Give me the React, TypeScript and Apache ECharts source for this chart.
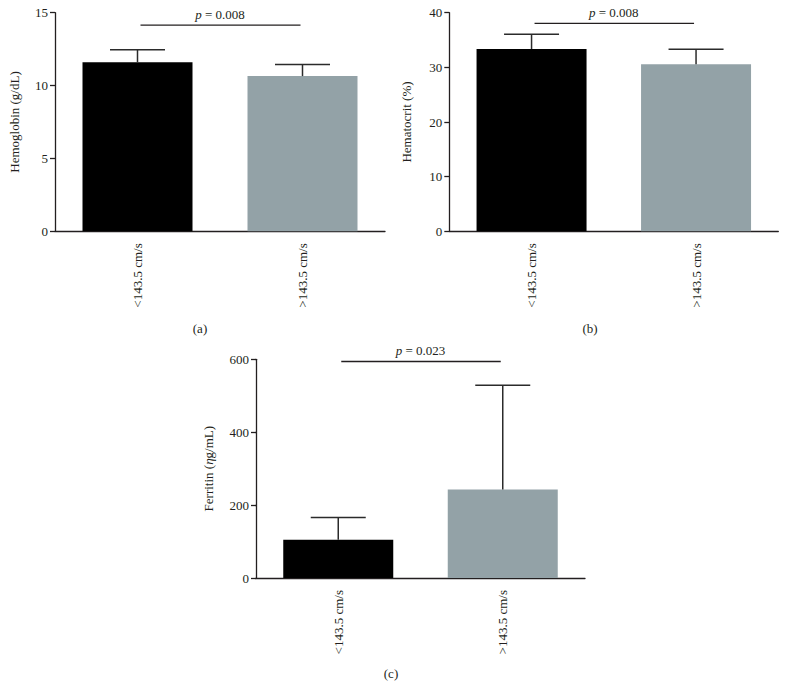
import React, { useEffect, useRef } from "react";
import * as echarts from "echarts";

const categories = ["<143.5 cm/s", ">143.5 cm/s"];
const barColors = ["#000000", "#93a2a7"];

const hemoglobinMean = [11.6, 10.65];
const hemoglobinSD = [0.85, 0.8];
const hematocritMean = [33.35, 30.55];
const hematocritSD = [2.7, 2.75];
const ferritinMean = [105, 243];
const ferritinSD = [61, 286];

const yMax = [15, 40, 600];
const yInterval = [5, 10, 200];
const yNames = ["Hemoglobin (g/dL)", "Hematocrit (%)", "Ferritin ({i|η}g/mL)"];
const pValues = ["0.008", "0.008", "0.023"];
const sigLineY = [14.15, 38.05, 594];
const panelLabels = ["(a)", "(b)", "(c)"];

const FONT = "'Liberation Serif', 'Times New Roman', serif";
const INK = "#231f20";

export default function App() {
  const ref = useRef<HTMLDivElement>(null);
  useEffect(() => {
    if (!ref.current) return;
    const chart = echarts.init(ref.current, undefined, { renderer: "svg" });
    const means = [hemoglobinMean, hematocritMean, ferritinMean];
    const sds = [hemoglobinSD, hematocritSD, ferritinSD];
    const grids = [
      { left: 55, top: 12.7, width: 330, height: 218.6 },
      { left: 449.3, top: 12.7, width: 329, height: 218.6 },
      { left: 256, top: 359.3, width: 329, height: 218.7 },
    ];
    const nameGaps = [34, 36, 41];

    const xAxis = grids.map((_, i) => ({
      type: "category",
      gridIndex: i,
      data: categories,
      axisLine: { lineStyle: { color: INK, width: 1.3 } },
      axisTick: { alignWithLabel: true, length: 6, lineStyle: { color: INK, width: 1.3 } },
      axisLabel: {
        rotate: 90,
        margin: 12,
        fontFamily: FONT,
        fontSize: 13,
        color: INK,
        interval: 0,
      },
      splitLine: { show: false },
    }));

    const yAxis = grids.map((_, i) => ({
      type: "value",
      gridIndex: i,
      min: 0,
      max: yMax[i],
      interval: yInterval[i],
      name: yNames[i],
      nameLocation: "middle",
      nameGap: nameGaps[i],
      nameTextStyle: {
        fontFamily: FONT,
        fontSize: 13,
        color: INK,
        rich: { i: { fontFamily: FONT, fontSize: 13, fontStyle: "italic", color: INK } },
      },
      axisLine: { show: true, lineStyle: { color: INK, width: 1.3 } },
      axisTick: { show: true, length: 5, lineStyle: { color: INK, width: 1.3 } },
      axisLabel: { fontFamily: FONT, fontSize: 13, color: INK, margin: 7 },
      splitLine: { show: false },
    }));

    const series: any[] = [];
    grids.forEach((_, i) => {
      series.push({
        type: "bar",
        xAxisIndex: i,
        yAxisIndex: i,
        barWidth: 110,
        data: means[i].map((v, k) => ({ value: v, itemStyle: { color: barColors[k] } })),
      });
      series.push({
        type: "custom",
        xAxisIndex: i,
        yAxisIndex: i,
        data: means[i].map((v, k) => [k, v, sds[i][k]]),
        renderItem: (params: any, api: any) => {
          const x = api.value(0);
          const m = api.value(1);
          const s = api.value(2);
          const p0 = api.coord([x, m]);
          const p1 = api.coord([x, m + s]);
          const style = { stroke: "#2b2b2b", lineWidth: 1.5 };
          return {
            type: "group",
            children: [
              { type: "line", shape: { x1: p0[0], y1: p0[1], x2: p1[0], y2: p1[1] }, style },
              { type: "line", shape: { x1: p1[0] - 27.5, y1: p1[1], x2: p1[0] + 27.5, y2: p1[1] }, style },
            ],
          };
        },
        z: 3,
      });
      series.push({
        type: "custom",
        xAxisIndex: i,
        yAxisIndex: i,
        data: [[0, sigLineY[i]]],
        renderItem: (params: any, api: any) => {
          const y = api.value(1);
          const a = api.coord([0, y]);
          const b = api.coord([1, y]);
          const mid = (a[0] + b[0]) / 2;
          return {
            type: "group",
            children: [
              {
                type: "line",
                shape: { x1: a[0] + 3, y1: a[1], x2: b[0] - 2, y2: b[1] },
                style: { stroke: INK, lineWidth: 1.3 },
              },
              {
                type: "text",
                style: {
                  x: mid,
                  y: a[1] - 4,
                  text: "{i|p} = " + pValues[i],
                  align: "center",
                  verticalAlign: "bottom",
                  fontFamily: FONT,
                  fontSize: 13,
                  fill: INK,
                  rich: {
                    i: { fontFamily: FONT, fontSize: 13, fontStyle: "italic", fill: INK },
                  },
                },
              },
            ],
          };
        },
        z: 3,
      });
    });

    const labelPos = [
      [200, 328],
      [590, 328],
      [391, 673],
    ];

    chart.setOption({
      animation: false,
      backgroundColor: "#ffffff",
      grid: grids,
      xAxis,
      yAxis,
      series,
      graphic: panelLabels.map((t, i) => ({
        type: "text",
        x: labelPos[i][0],
        y: labelPos[i][1],
        style: {
          text: t,
          fontFamily: FONT,
          fontSize: 13,
          fill: INK,
          align: "center",
          verticalAlign: "middle",
        },
      })),
    });
    return () => chart.dispose();
  }, []);
  return (
    <div
      ref={ref}
      style={{ position: "absolute", left: 0, top: 0, width: 787, height: 700, background: "#fff" }}
    />
  );
}
